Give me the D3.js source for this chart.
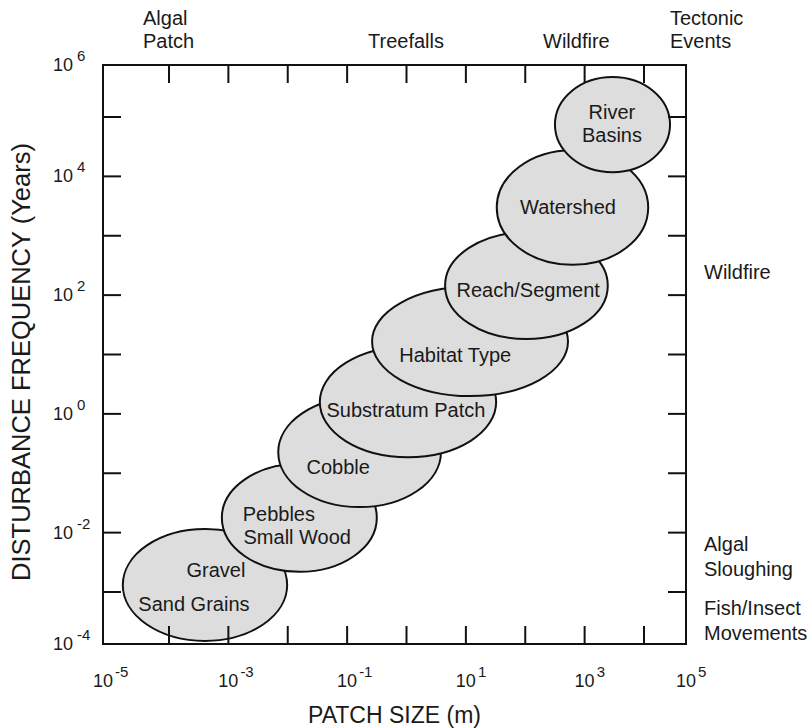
<!DOCTYPE html>
<html><head><meta charset="utf-8">
<script src="https://cdn.jsdelivr.net/npm/d3@7"></script>
<style>
body{margin:0;background:#fff}
text{font-family:"Liberation Sans",Arial,Helvetica,sans-serif;fill:#1a1a1a}
</style>
</head><body>
<svg id="c" width="808" height="728"></svg>
<script>
// ---- data (log10 values) ----
const patchNames   = ["Gravel / Sand Grains","Pebbles / Small Wood","Cobble","Substratum Patch","Habitat Type","Reach/Segment","Watershed","River Basins"];
const sizeMinLog   = [-4.70,-3.11,-2.16,-1.46,-0.58, 0.65, 1.52, 2.50];
const sizeMaxLog   = [-2.01,-0.50, 0.58, 1.51, 2.72, 3.39, 4.10, 4.62];
const freqMinLog   = [-3.94,-2.66,-1.57,-0.73, 0.30, 1.26, 2.51, 4.07];
const freqMaxLog   = [-1.94,-0.84, 0.28, 1.13, 2.14, 3.06, 4.44, 5.77];

const labelText = ["Gravel","Sand Grains","Pebbles","Small Wood","Cobble","Substratum Patch","Habitat Type","Reach/Segment","Watershed","River","Basins"];
const labelXLog = [-3.21,-3.58,-2.15,-1.84,-1.15,-0.01, 0.82, 2.05, 2.72, 3.46, 3.46];
const labelYLog = [-2.63,-3.23,-1.69,-2.07,-0.89, 0.07, 0.99, 2.09, 3.48, 5.10, 4.70];

const xTickExp  = [-4,-3,-2,-1,0,1,2,3,4];
const xLabelExp = [-5,-3,-1,1,3,5];
const yTickExp  = [-3,-2,-1,0,1,2,3,4,5];
const yLabelExp = [-4,-2,0,2,4,6];

const topEvents   = [["Algal","Patch"],["Treefalls"],["Wildfire"],["Tectonic","Events"]];
const rightEvents = [["Wildfire"],["Algal","Sloughing"],["Fish/Insect","Movements"]];

const xTitle = "PATCH SIZE (m)";
const yTitle = "DISTURBANCE FREQUENCY (Years)";

// ---- scales (hand-drawn axis: end decades differ in width) ----
const p = v => Math.pow(10, v);
const x = d3.scaleLog().domain([1e-5,1e-4,1e4,1e5]).range([103,169,644,686]);
const y = d3.scaleLog().domain([1e-4,1e-3,1e5,1e6]).range([644,592,117,65]);

const svg = d3.select("#c");
const X0 = x(1e-5), X1 = x(1e5), Y0 = y(1e-4), Y1 = y(1e6);
const TL = 18;

// ellipses
const ell = patchNames.map((n,i)=>({
  name:n,
  x0:x(p(sizeMinLog[i])), x1:x(p(sizeMaxLog[i])),
  y0:y(p(freqMaxLog[i])), y1:y(p(freqMinLog[i]))
}));
svg.append("g").selectAll("ellipse").data(ell).join("ellipse")
  .attr("cx",d=>(d.x0+d.x1)/2).attr("cy",d=>(d.y0+d.y1)/2)
  .attr("rx",d=>(d.x1-d.x0)/2).attr("ry",d=>(d.y1-d.y0)/2)
  .attr("fill","#dddddd").attr("stroke","#111").attr("stroke-width",2);

// ellipse labels
svg.append("g").selectAll("text").data(labelText).join("text")
  .attr("x",(d,i)=>x(p(labelXLog[i]))).attr("y",(d,i)=>y(p(labelYLog[i])))
  .attr("dy","0.36em").attr("text-anchor","middle").attr("font-size",20)
  .text(d=>d);

// frame
svg.append("rect").attr("x",X0).attr("y",Y1).attr("width",X1-X0).attr("height",Y0-Y1)
  .attr("fill","none").attr("stroke","#111").attr("stroke-width",2);

// ticks
const tg = svg.append("g").attr("stroke","#111").attr("stroke-width",2);
xTickExp.forEach(e=>{
  const px = x(p(e));
  tg.append("line").attr("x1",px).attr("x2",px).attr("y1",Y0).attr("y2",Y0-TL);
  tg.append("line").attr("x1",px).attr("x2",px).attr("y1",Y1).attr("y2",Y1+TL);
});
yTickExp.forEach(e=>{
  const py = y(p(e));
  tg.append("line").attr("x1",X0).attr("x2",X0+TL).attr("y1",py).attr("y2",py);
  tg.append("line").attr("x1",X1).attr("x2",X1-TL).attr("y1",py).attr("y2",py);
});

// tick labels
xLabelExp.forEach(e=>{
  const px = x(p(e));
  svg.append("text").attr("x",px).attr("y",687).attr("text-anchor","middle").attr("font-size",18).text("10");
  svg.append("text").attr("x",px+12).attr("y",677).attr("font-size",15).text(String(e));
});
yLabelExp.forEach(e=>{
  const py = y(p(e));
  svg.append("text").attr("x",73).attr("y",py+6).attr("text-anchor","end").attr("font-size",18).text("10");
  svg.append("text").attr("x",77).attr("y",py-4).attr("font-size",15).text(String(e));
});

// event annotations
const topX = [143,368,543,670];
topEvents.forEach((lines,i)=>{
  const t = svg.append("text").attr("font-size",20);
  lines.forEach((s,j)=>{
    t.append("tspan").attr("x",topX[i]).attr("y",48-(lines.length-1-j)*23).text(s);
  });
});
const rightY = [279,551,615];
rightEvents.forEach((lines,i)=>{
  const t = svg.append("text").attr("font-size",20);
  lines.forEach((s,j)=>{
    t.append("tspan").attr("x",704).attr("y",rightY[i]+j*25).text(s);
  });
});

// axis titles
svg.append("text").attr("x",(X0+X1)/2).attr("y",723).attr("text-anchor","middle")
  .attr("font-size",23).text(xTitle);
svg.append("text").attr("transform",`translate(30,362) rotate(-90)`)
  .attr("text-anchor","middle").attr("font-size",25.5).text(yTitle);
</script>
</body></html>
